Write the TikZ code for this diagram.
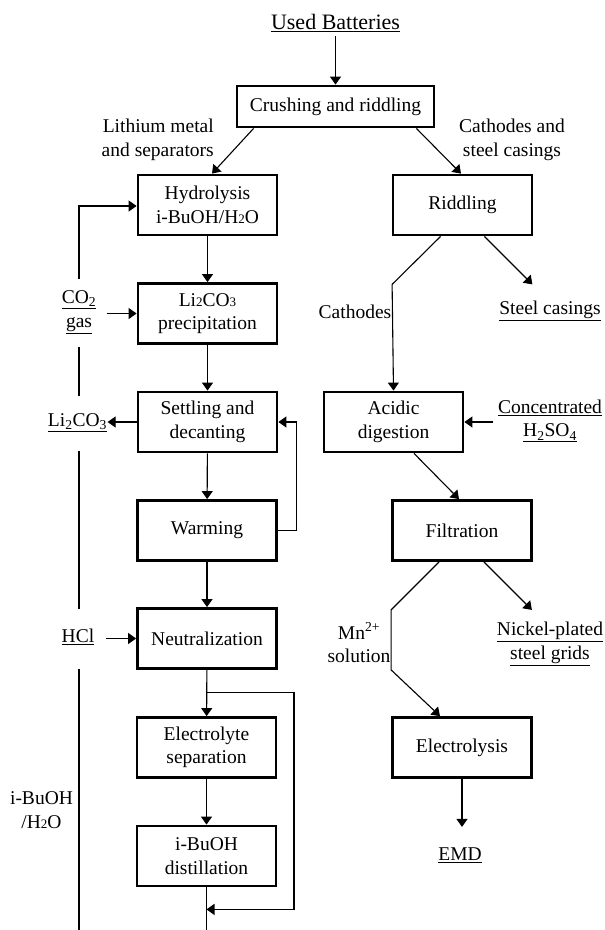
\documentclass[tikz,border=0pt]{standalone}
\usepackage{fontspec}
\setmainfont{Liberation Serif}
\usetikzlibrary{arrows.meta,calc}
\newcommand{\fsz}{\fontsize{19.5}{23.5}\selectfont}
\newcommand{\sdig}[1]{{\fontsize{13}{13}\selectfont #1}}
\begin{document}
\begin{tikzpicture}[x=1pt,y=-1pt,
  box/.style={draw,line width=2.8pt,minimum width=139pt,minimum height=60pt,inner sep=0pt,align=center,font=\fsz},
  lbl/.style={align=center,inner sep=0pt,font=\fsz},
  con/.style={line width=1.1pt},
  arr/.style={con,-{Triangle[length=8pt,width=11pt]}}]
\useasboundingbox (0,0) rectangle (605,930);

% boxes
\node[box,minimum width=197pt,minimum height=41pt] (crush) at (335.5,106.5) {Crushing and riddling};
\node[box] (hydro)  at (207.5,205)   {Hydrolysis\\i-BuOH/H\sdig{2}O};
\node[box] (ridd)   at (462.5,205)   {Riddling};
\node[box] (lipre)  at (207.5,313.5) {Li\sdig{2}CO\sdig{3}\\precipitation};
\node[box] (settle) at (207.5,422)   {Settling and\\decanting};
\node[box] (warm)   at (207,530.5)   {Warming};
\node[box] (neut)   at (207,638.5)   {Neutralization};
\node[box] (elsep)  at (206.5,747.5) {Electrolyte\\separation};
\node[box] (dist)   at (206.5,856)   {i-BuOH\\distillation};
\node[box] (acid)   at (393.5,422)   {Acidic\\digestion};
\node[box] (filt)   at (462,530.5)   {Filtration};
\node[box] (elys)   at (462,747.5)   {Electrolysis};

% labels
\node[lbl,font=\fontsize{22}{25}\selectfont] (ub) at (335.5,23) {\underline{Used Batteries}};
\node[lbl,anchor=east,align=right] (lith) at (214,140) {Lithium metal\\and separators};
\node[lbl] (cath) at (512,140) {Cathodes and\\steel casings};
\node[lbl] (co2) at (79,312) {\underline{CO\textsubscript{2}}\\\underline{gas}};
\node[lbl] (li2) at (77.5,423) {\underline{Li\textsubscript{2}CO\textsubscript{3}}};
\node[lbl] (hcl) at (78,637) {\underline{HCl}};
\node[lbl] (ibu) at (41.5,810) {i-BuOH\\/H\sdig{2}O};
\node[lbl] (cathodes) at (355,312) {Cathodes};
\node[lbl] (steel) at (550,311) {\underline{Steel casings}};
\node[lbl] (conc) at (550,421) {\underline{Concentrated}\\\underline{H\textsubscript{2}SO\textsubscript{4}}};
\node[lbl] (mn) at (359,643) {Mn\textsuperscript{2+}\\solution};
\node[lbl] (nick) at (550,644) {\underline{Nickel-plated}\\\underline{steel grids}};
\node[lbl] (emd) at (460,855) {\underline{EMD}};

% top connectors
\draw[arr] ([yshift=-4pt]ub.south) -- (crush.north);
\draw[arr] ($(crush.south west)+(18,0)$) -- ($(hydro.north)+(4.5,0)$);
\draw[arr] ($(crush.south east)+(-19,0)$) -- ($(ridd.north)+(-1.5,0)$);

% left column
\draw[arr] (hydro) -- (lipre);
\draw[arr] (lipre) -- (settle);
\draw[arr] (settle) -- (warm);
\draw[arr] (warm) -- (neut);
\draw[arr] (neut) -- (elsep);
\draw[arr] (elsep) -- (dist);

% side inputs / outputs
\draw[arr] ($(lipre.west)+(-30,0)$) -- (lipre.west);
\draw[arr] (settle.west) -- ($(settle.west)+(-29,0)$);
\draw[arr] ($(neut.west)+(-30,0)$) -- (neut.west);

% recycle line on the left
\coordinate (lb) at (79,930);
\path (lb |- hcl) coordinate (vh) (lb |- li2) coordinate (vl)
      (lb |- co2) coordinate (vc) (lb |- hydro) coordinate (vt);
\draw[con] (lb) -- ($(vh)+(0,32)$);
\draw[con] ($(vh)+(0,-28)$) -- ($(vl)+(0,28)$);
\draw[con] ($(vl)+(0,-27)$) -- ($(vc)+(0,35)$);
\draw[arr] ($(vc)+(0,-33)$) -- ($(vt)+(0,1)$) -- ($(hydro.west)+(0,1)$);

% warming feedback
\draw[arr] (warm.east) -- ++(19,0) |- (settle.east);

% neutralization bypass
\coordinate (br) at ($(neut.south)+(0,23)$);
\coordinate (bj) at ($(dist.south)+(0,22)$);
\draw[arr] (br) -- ++(87,0) |- (bj);
\draw[con] (dist.south) -- (dist.south |- lb);

% right column
\draw[arr] ($(ridd.south west)+(49,0)$) -- ++(-48.5,48) -- (acid.north);
\draw[arr] ($(ridd.south east)+(-49,0)$) -- ++(48,48);
\draw[arr] ($(acid.east)+(29,0)$) -- (acid.east);
\draw[arr] ($(acid.south)+(20.5,0)$) -- ($(filt.north)+(-3,0)$);
\draw[arr] ($(filt.south west)+(48,0)$) -- ++(-48,48) -- ++(0,60) -- ($(elys.north)+(-22,0)$);
\draw[arr] ($(filt.south east)+(-49,0)$) -- ++(48,48);
\draw[arr] (elys.south) -- ++(0,48);
\end{tikzpicture}
\end{document}
